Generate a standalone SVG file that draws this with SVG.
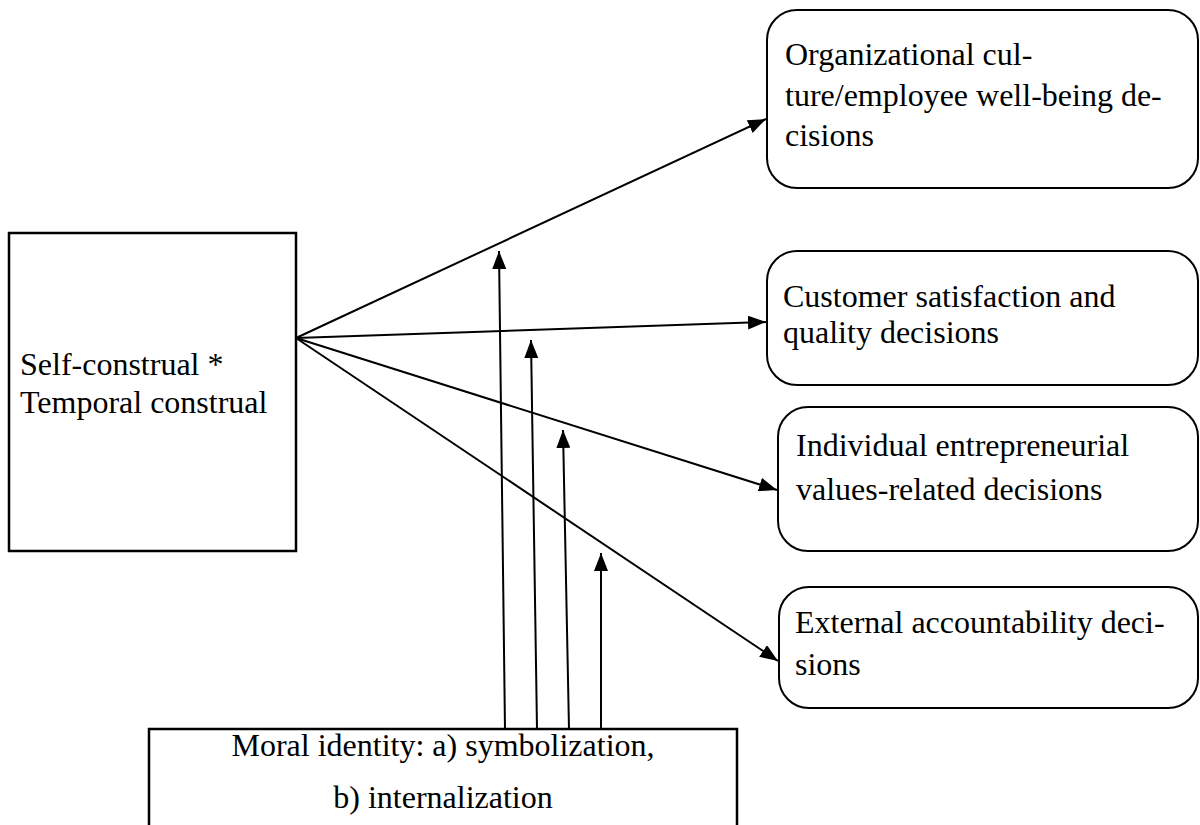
<svg xmlns="http://www.w3.org/2000/svg" width="1200" height="825" viewBox="0 0 1200 825">
<style>
.box{fill:#fff;stroke:#000;stroke-width:2}
.sq{fill:#fff;stroke:#000;stroke-width:2.5}
.t{font-family:'Liberation Serif','Times New Roman',Times,'DejaVu Serif',serif;font-size:32px;fill:#000}
.c{text-anchor:middle}
.ln{stroke:#000;stroke-width:2;fill:none;marker-end:url(#ah)}
</style>
<defs>
<marker id="ah" viewBox="0 0 18 14" refX="18" refY="7" markerWidth="18" markerHeight="14" markerUnits="userSpaceOnUse" orient="auto">
<path d="M0,0 L18,7 L0,14 z" fill="#000"/>
</marker>
</defs>
<rect width="1200" height="825" fill="#fff"/>
<g id="self-construal">
<rect class="sq" x="9" y="233" width="287" height="318"/>
<text class="t" x="20" y="375" font-family="Liberation Serif, serif">Self-construal *</text>
<text class="t" x="20" y="413" font-family="Liberation Serif, serif">Temporal construal</text>
</g>
<g id="moral-identity">
<rect class="sq" x="149" y="729" width="588" height="130"/>
<text class="t c" x="443" y="756" font-family="Liberation Serif, serif">Moral identity: a) symbolization,</text>
<text class="t c" x="443" y="808" font-family="Liberation Serif, serif">b) internalization</text>
</g>
<g id="org-culture">
<rect class="box" x="767" y="10" width="431" height="178" rx="30" ry="30"/>
<text class="t" x="785" y="65" font-family="Liberation Serif, serif">Organizational cul-</text>
<text class="t" x="785" y="106" font-family="Liberation Serif, serif">ture/employee well-being de-</text>
<text class="t" x="785" y="146" font-family="Liberation Serif, serif">cisions</text>
</g>
<g id="customer">
<rect class="box" x="767" y="251" width="431" height="134" rx="30" ry="30"/>
<text class="t" x="783" y="307" font-family="Liberation Serif, serif">Customer satisfaction and</text>
<text class="t" x="783" y="343" font-family="Liberation Serif, serif">quality decisions</text>
</g>
<g id="individual">
<rect class="box" x="778" y="407" width="420" height="144" rx="30" ry="30"/>
<text class="t" x="796" y="456" font-family="Liberation Serif, serif">Individual entrepreneurial</text>
<text class="t" x="796" y="500" font-family="Liberation Serif, serif">values-related decisions</text>
</g>
<g id="external">
<rect class="box" x="779" y="587" width="419" height="121" rx="30" ry="30"/>
<text class="t" x="795" y="633" font-family="Liberation Serif, serif">External accountability deci-</text>
<text class="t" x="795" y="675" font-family="Liberation Serif, serif">sions</text>
</g>
<g id="connectors">
<line class="ln" x1="296" y1="338" x2="766" y2="119"/>
<line class="ln" x1="296" y1="338" x2="766" y2="322"/>
<line class="ln" x1="296" y1="338" x2="777" y2="490"/>
<line class="ln" x1="296" y1="338" x2="778" y2="661"/>
<line class="ln" x1="505" y1="729" x2="499" y2="251"/>
<line class="ln" x1="537" y1="729" x2="531" y2="340"/>
<line class="ln" x1="569" y1="729" x2="563" y2="430"/>
<line class="ln" x1="601" y1="729" x2="601" y2="553"/>
</g>
</svg>
